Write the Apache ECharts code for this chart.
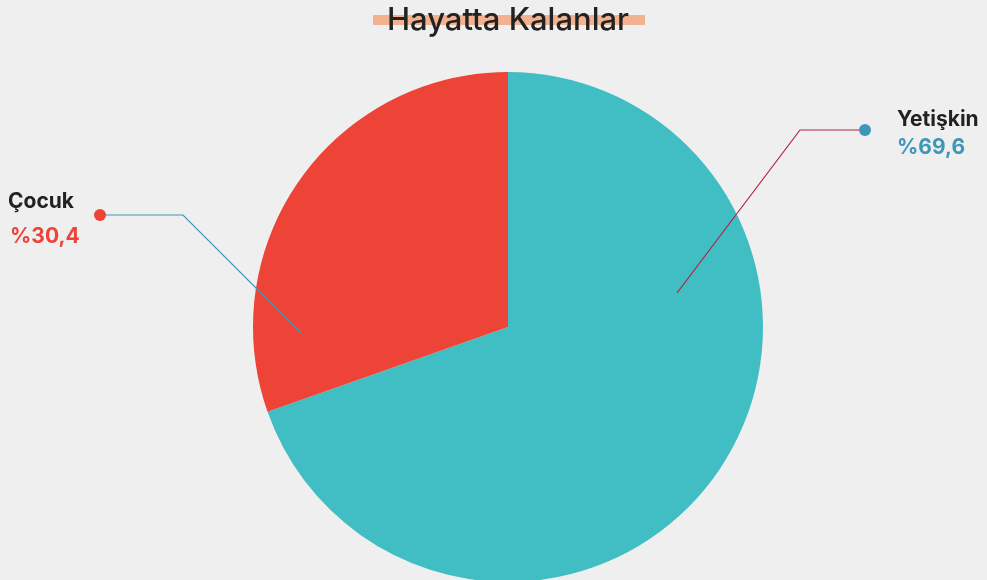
<!DOCTYPE html>
<html><head><meta charset="utf-8">
<script src="https://cdn.jsdelivr.net/npm/echarts@6/dist/echarts.min.js"></script>
<style>html,body{margin:0;padding:0;background:#efefef;}#c{width:987px;height:580px;}</style>
</head><body><div id="c"></div>
<script>
var categories = ['Yetişkin', 'Çocuk'];
var values = [69.6, 30.4];
var valueLabels = ['%69,6', '%30,4'];
var sliceColors = ['#41bec4', '#ee4337'];
var valueColors = ['#3d97b8', '#ee4337'];
var lineColors = ['#b3223f', '#3d97b8'];
var dotColors = ['#3d97b8', '#ee4337'];

// label layout (pixel positions of annotation)
var layouts = [
  {x: 897, y: 106, lh: 28, pts: [[677, 293], [800, 130], [865, 130]], dot: [865, 130]},
  {x: 8, y: 184, lh: 35, pts: [[301, 333], [183, 215], [100, 215]], dot: [100, 215]}
];

var chart = echarts.init(document.getElementById('c'));
var data = categories.map(function (n, i) {
  return {
    name: n, value: values[i],
    itemStyle: {color: sliceColors[i]},
    label: {
      formatter: '{n|' + n + '}\n{v|' + valueLabels[i] + '}',
      rich: {
        n: {fontFamily: 'Inter', fontWeight: 'bold', fontSize: 21, color: '#222', lineHeight: layouts[i].lh},
        v: {fontFamily: 'Inter', fontWeight: 'bold', fontSize: 21, color: valueColors[i], lineHeight: layouts[i].lh, padding: [0, 0, 0, i === 1 ? 2 : 0]}
      }
    },
    labelLine: {show: false}
  };
});

chart.setOption({
  backgroundColor: '#efefef',
  animation: false,
  graphic: [
    {type: 'rect', shape: {x: 373, y: 15, width: 272, height: 10}, style: {fill: '#f2b290'}, z: 0},
    {type: 'text', x: 508, y: 21, style: {text: 'Hayatta Kalanlar', font: '500 31px Inter', fill: '#222', textAlign: 'center', textVerticalAlign: 'middle'}, z: 10}
  ].concat(layouts.map(function (l, i) {
    return {type: 'polyline', shape: {points: l.pts}, style: {stroke: lineColors[i], lineWidth: 1.2, fill: null}, z: 99};
  })).concat(layouts.map(function (l, i) {
    return {type: 'circle', shape: {cx: l.dot[0], cy: l.dot[1], r: 6}, style: {fill: dotColors[i]}, z: 100};
  })),
  series: [{
    type: 'pie',
    center: [508, 327],
    radius: [0, 255],
    startAngle: 90,
    clockwise: true,
    data: data,
    label: {show: true, position: 'outside'},
    emphasis: {disabled: true},
    labelLayout: function (params) {
      var l = layouts[params.dataIndex];
      return {x: l.x, y: l.y, align: 'left', verticalAlign: 'top'};
    }
  }]
});
</script></body></html>
